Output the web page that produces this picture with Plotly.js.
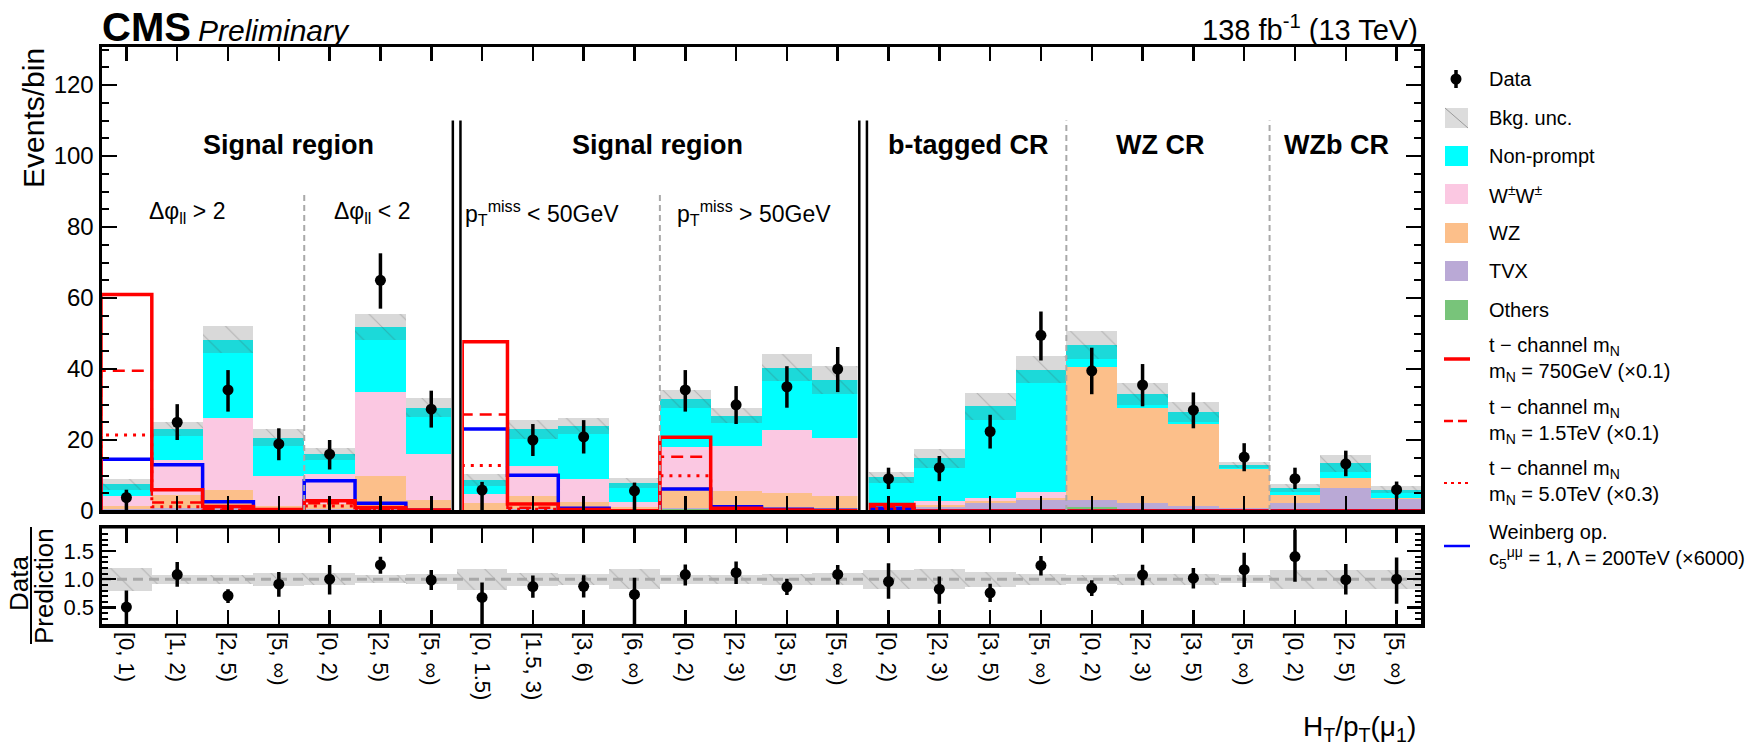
<!DOCTYPE html>
<html>
<head>
<meta charset="utf-8">
<script src="https://cdn.plot.ly/plotly-3.0.1.min.js"></script>
<style>
  html, body { margin: 0; padding: 0; background: #ffffff; }
  #chart { width: 1745px; height: 748px; }
</style>
</head>
<body>
<div id="chart"></div>
<script>
// ---- bins: H_T / p_T(mu1) intervals in each analysis region ----
const binLabels = [
  "[0, 1)", "[1, 2)", "[2, 5)", "[5, ∞)", "[0, 2)", "[2, 5)", "[5, ∞)",
  "[0, 1.5)", "[1.5, 3)", "[3, 6)", "[6, ∞)", "[0, 2)", "[2, 3)", "[3, 5)", "[5, ∞)",
  "[0, 2)", "[2, 3)", "[3, 5)", "[5, ∞)",
  "[0, 2)", "[2, 3)", "[3, 5)", "[5, ∞)",
  "[0, 2)", "[2, 5)", "[5, ∞)"
];

// ---- background predictions (events / bin), stacked bottom to top ----
const others    = [0.2, 0.3, 0.3, 0.1, 0.2, 0.3, 0.2,  0.1, 0.3, 0.1, 0.05, 0.5, 0.2, 0.2, 0.2,  0.1, 0.1, 0.1, 0.1,  1.0, 0.6, 0.3, 0.1,  0.1, 0.2, 0.1];
const tvx       = [0.3, 0.5, 0.6, 0.3, 0.4, 0.8, 0.5,  0.3, 0.4, 0.3, 0.15, 0.4, 0.4, 0.4, 0.5,  0.3, 1.0, 2.1, 3.0,  2.1, 1.6, 1.2, 0.7,  2.1, 6.3, 3.3];
const wz        = [0.9, 3.7, 5.0, 1.1, 1.5, 8.8, 2.4,  1.8, 3.6, 2.0, 0.8, 5.9, 5.1, 4.5, 3.6,  0.3, 0.6, 0.5, 0.5,  37.4, 26.8, 22.9, 10.9,  2.2, 2.8, 0.4];
const wpwp      = [2.9, 9.9, 20.2, 8.4, 8.3, 23.7, 13.0,  2.6, 8.4, 6.6, 1.4, 11.1, 12.6, 17.7, 16.4,  0.3, 1.0, 1.1, 1.7,  0.2, 0.1, 0.1, 0.05,  0.0, 0.0, 0.0];
const nonprompt = [3.2, 8.7, 22.1, 10.8, 5.6, 18.3, 13.0,  3.9, 10.3, 14.9, 5.4, 13.6, 8.5, 17.6, 16.2,  8.5, 12.1, 25.7, 34.5,  6.1, 3.9, 3.4, 1.25,  2.1, 4.1, 2.2];
const bkgUnc    = [1.5, 1.9, 3.8, 2.4, 1.7, 3.7, 2.6,  1.6, 2.6, 2.3, 1.4, 2.6, 2.1, 3.8, 3.9,  1.6, 2.6, 3.8, 3.8,  3.9, 3.2, 2.7, 0.9,  1.1, 2.3, 1.0];

// ---- observed data with asymmetric uncertainties ----
const dataVals  = [3.8, 25.0, 34.1, 18.9, 16.0, 65.0, 28.7,  5.9, 20.0, 20.9, 5.7, 34.1, 29.9, 35.0, 40.0,  9.1, 12.2, 22.4, 49.5,  39.5, 35.5, 28.4, 15.2,  9.1, 13.3, 6.0];
const dataErrUp = [2.2, 5.1, 5.6, 4.4, 4.0, 7.6, 5.2,  2.3, 4.5, 4.7, 2.3, 5.6, 5.3, 5.8, 6.2,  3.1, 3.3, 4.7, 6.7,  6.5, 5.9, 5.0, 3.9,  3.1, 3.7, 2.3];
const dataErrDn = [3.8, 5.0, 6.1, 4.6, 4.3, 8.0, 5.2,  5.9, 4.5, 4.7, 5.7, 6.1, 5.4, 5.9, 6.5,  2.9, 3.8, 4.8, 7.1,  6.6, 6.0, 5.1, 4.0,  2.9, 3.5, 2.6];

// ---- signal hypotheses (scaled as quoted in the legend) ----
const sigT750     = [61.0, 6.0, 1.3, 0.4, 2.9, 1.0, 0.3,  47.7, 2.0, 0.4, 0.1, 20.8, 0.8, 0.3, 0.1,  1.8, 0, 0, 0,  0, 0, 0, 0,  0, 0, 0];
const sigT1500    = [39.5, 2.4, 0.6, 0.2, 2.2, 0.5, 0.15, 27.2, 0.9, 0.2, 0.05, 15.3, 0.4, 0.1, 0.05, 1.3, 0, 0, 0,  0, 0, 0, 0,  0, 0, 0];
const sigT5000    = [21.4, 1.2, 0.3, 0.1, 1.4, 0.3, 0.1,  12.8, 0.5, 0.1, 0.03, 9.9, 0.3, 0.1, 0.03, 0.7, 0, 0, 0,  0, 0, 0, 0,  0, 0, 0];
const sigWeinberg = [14.6, 13.0, 2.6, 0.2, 8.5, 2.2, 0.2,  23.1, 10.1, 0.8, 0.1, 6.2, 1.2, 0.5, 0.2,  0.8, 0, 0, 0,  0, 0, 0, 0,  0, 0, 0];

// ---- region layout: contiguous bin ranges drawn as separate panels ----
const panels = [[0, 6], [7, 14], [15, 25]];

const COL = {
  others: '#78c47a', tvx: '#baa9d6', wz: '#fcbf8a', wpwp: '#fbc8e2', np: '#00ffff',
  red: '#ff0000', blue: '#0000ff'
};
const FONT = 'Liberation Sans, Arial, Helvetica, sans-serif';

const nBins = binLabels.length;
const idx = binLabels.map((_, i) => i);

// stacked backgrounds
const stackDefs = [
  { name: 'Others', vals: others, color: COL.others },
  { name: 'TVX', vals: tvx, color: COL.tvx },
  { name: 'WZ', vals: wz, color: COL.wz },
  { name: 'W±W±', vals: wpwp, color: COL.wpwp },
  { name: 'Non-prompt', vals: nonprompt, color: COL.np }
];
const cumul = idx.map(() => 0);
const traces = [];
stackDefs.forEach(s => {
  traces.push({
    type: 'bar', x: idx, y: s.vals, base: cumul.slice(), width: 1,
    marker: { color: s.color, line: { width: 0 } },
    xaxis: 'x', yaxis: 'y', hoverinfo: 'skip', showlegend: false
  });
  s.vals.forEach((v, i) => { cumul[i] += v; });
});
const totalPred = cumul.slice();

// uncertainty band: translucent grey fill plus a sparse hatch on top
const BAND_FILL = 'rgba(110,110,110,0.26)';
const hatch = { shape: '\\', fgcolor: 'rgba(70,70,70,0.5)', bgcolor: 'rgba(0,0,0,0)', size: 22, solidity: 0.05, fillmode: 'overlay' };
function bandTraces(xa, ya, lo, hi) {
  const common = { type: 'bar', x: idx, y: idx.map(i => hi[i] - lo[i]), base: lo, width: 1,
    xaxis: xa, yaxis: ya, hoverinfo: 'skip', showlegend: false };
  return [
    Object.assign({}, common, { marker: { color: BAND_FILL, line: { width: 0 } } }),
    Object.assign({}, common, { marker: { color: 'rgba(0,0,0,0)', line: { width: 0 }, pattern: hatch } })
  ];
}
traces.push(...bandTraces('x', 'y',
  idx.map(i => totalPred[i] - bkgUnc[i]), idx.map(i => totalPred[i] + bkgUnc[i])));

// step outlines for the signal hypotheses, one closed outline per panel
function stepOutline(vals) {
  const gap = 0.11;
  const xs = [], ys = [];
  panels.forEach(([a, b], p) => {
    const left = a - 0.5 + (a > 0 ? gap : 0);
    const right = b + 0.5 - (b < nBins - 1 ? gap : 0);
    xs.push(left); ys.push(0);
    for (let i = a; i <= b; i++) {
      xs.push(i === a ? left : i - 0.5, i === b ? right : i + 0.5);
      ys.push(vals[i], vals[i]);
    }
    xs.push(right); ys.push(0);
    if (p < panels.length - 1) { xs.push(null); ys.push(null); }
  });
  return { x: xs, y: ys };
}
const signalDefs = [
  { vals: sigWeinberg, color: COL.blue, width: 3.5, dash: 'solid' },
  { vals: sigT5000, color: COL.red, width: 3, dash: '3px,6px' },
  { vals: sigT1500, color: COL.red, width: 2.5, dash: '12px,7px' },
  { vals: sigT750, color: COL.red, width: 3.5, dash: 'solid' }
];
signalDefs.forEach(s => {
  const st = stepOutline(s.vals);
  traces.push({
    type: 'scatter', mode: 'lines', x: st.x, y: st.y, connectgaps: false,
    line: { color: s.color, width: s.width, dash: s.dash, shape: 'linear' },
    xaxis: 'x', yaxis: 'y', hoverinfo: 'skip', showlegend: false
  });
});

// observed data
traces.push({
  type: 'scatter', mode: 'markers', x: idx, y: dataVals,
  marker: { color: '#000', size: 11 },
  error_y: { type: 'data', symmetric: false, array: dataErrUp, arrayminus: dataErrDn, color: '#000', thickness: 3.5, width: 0 },
  xaxis: 'x', yaxis: 'y', hoverinfo: 'skip', showlegend: false
});

// ---- ratio panel ----
const relUnc = idx.map(i => bkgUnc[i] / totalPred[i]);
traces.push(...bandTraces('x2', 'y2', relUnc.map(u => 1 - u), relUnc.map(u => 1 + u)));
traces.push({
  type: 'scatter', mode: 'lines', x: [-0.5, nBins - 0.5], y: [1, 1],
  line: { color: '#a8a8a8', width: 3, dash: '10px,6px' },
  xaxis: 'x2', yaxis: 'y2', hoverinfo: 'skip', showlegend: false
});
traces.push({
  type: 'scatter', mode: 'markers', x: idx, y: idx.map(i => dataVals[i] / totalPred[i]),
  marker: { color: '#000', size: 11 },
  error_y: {
    type: 'data', symmetric: false,
    array: idx.map(i => dataErrUp[i] / totalPred[i]),
    arrayminus: idx.map(i => dataErrDn[i] / totalPred[i]),
    color: '#000', thickness: 3.5, width: 0
  },
  xaxis: 'x2', yaxis: 'y2', hoverinfo: 'skip', showlegend: false
});

// ---- geometry helpers (pixels -> paper) ----
const PL = 101, PR = 1422, PT = 46, PB = 625;
const px2x = p => (p - PL) / (PR - PL);
const py2y = p => (PB - p) / (PB - PT);
const mainBottom = py2y(511), ratioTop = py2y(527.5);

const shapes = [];
const annotations = [];

// panel separators (double lines with a blank gap)
[6.5, 14.5].forEach(b => {
  shapes.push({ type: 'rect', xref: 'x', yref: 'y', x0: b - 0.11, x1: b + 0.11, y0: 0, y1: 110,
    fillcolor: '#ffffff', line: { width: 0 }, layer: 'above' });
  [-0.075, 0.075].forEach(d => shapes.push({ type: 'line', xref: 'x', yref: 'y', x0: b + d, x1: b + d, y0: 0, y1: 110,
    line: { color: '#000', width: 2.5 }, layer: 'above' }));
});
// sub-region dividers
[[3.5, 90], [10.5, 90], [18.5, 110], [22.5, 110]].forEach(([b, top]) => {
  shapes.push({ type: 'line', xref: 'x', yref: 'y', x0: b, x1: b, y0: 0, y1: top,
    line: { color: '#a9a9a9', width: 2, dash: '6px,4px' }, layer: 'above' });
});
// frames
shapes.push({ type: 'rect', xref: 'paper', yref: 'paper', x0: 0, x1: 1, y0: mainBottom, y1: 1,
  line: { color: '#000', width: 2 }, fillcolor: 'rgba(0,0,0,0)', layer: 'above' });
shapes.push({ type: 'rect', xref: 'paper', yref: 'paper', x0: 0, x1: 1, y0: 0, y1: ratioTop,
  line: { color: '#000', width: 2 }, fillcolor: 'rgba(0,0,0,0)', layer: 'above' });

// region labels
const regionTitles = [
  { x: 3.2, text: 'Signal region' }, { x: 10.46, text: 'Signal region' },
  { x: 16.57, text: 'b-tagged CR' }, { x: 20.35, text: 'WZ CR' }, { x: 23.81, text: 'WZb CR' }
];
regionTitles.forEach(r => annotations.push({
  xref: 'x', yref: 'y', x: r.x, y: 103, text: '<b>' + r.text + '</b>', showarrow: false,
  xanchor: 'center', yanchor: 'middle', font: { family: FONT, size: 27, color: '#000' }
}));
const subTitles = [
  { x: 1.19, text: 'Δφ<sub>ll</sub> > 2' }, { x: 4.83, text: 'Δφ<sub>ll</sub> < 2' },
  { x: 8.18, text: 'p<sub>T</sub><sup>miss</sup> < 50GeV' }, { x: 12.35, text: 'p<sub>T</sub><sup>miss</sup> > 50GeV' }
];
subTitles.forEach(r => annotations.push({
  xref: 'x', yref: 'y', x: r.x, y: 84, text: r.text, showarrow: false,
  xanchor: 'center', yanchor: 'middle', font: { family: FONT, size: 23, color: '#000' }
}));

// header
annotations.push({ xref: 'paper', yref: 'paper', x: px2x(100), y: py2y(27), text: '<b>CMS</b>', showarrow: false,
  xanchor: 'left', yanchor: 'middle', font: { family: FONT, size: 40, color: '#000' } });
annotations.push({ xref: 'paper', yref: 'paper', x: px2x(196), y: py2y(30), text: '<i>Preliminary</i>', showarrow: false,
  xanchor: 'left', yanchor: 'middle', font: { family: FONT, size: 30, color: '#000' } });
annotations.push({ xref: 'paper', yref: 'paper', x: px2x(1420), y: py2y(28), text: '138 fb<sup>-1</sup> (13 TeV)', showarrow: false,
  xanchor: 'right', yanchor: 'middle', font: { family: FONT, size: 29, color: '#000' } });

// axis titles
annotations.push({ xref: 'paper', yref: 'paper', x: px2x(33), y: 1, text: 'Events/bin', textangle: -90, showarrow: false,
  xanchor: 'center', yanchor: 'top', font: { family: FONT, size: 30, color: '#000' } });
annotations.push({ xref: 'paper', yref: 'paper', x: px2x(19), y: py2y(584), text: 'Data', textangle: -90, showarrow: false,
  xanchor: 'center', yanchor: 'middle', font: { family: FONT, size: 26, color: '#000' } });
annotations.push({ xref: 'paper', yref: 'paper', x: px2x(44), y: py2y(586), text: 'Prediction', textangle: -90, showarrow: false,
  xanchor: 'center', yanchor: 'middle', font: { family: FONT, size: 26, color: '#000' } });
shapes.push({ type: 'line', xref: 'paper', yref: 'paper', x0: px2x(31), x1: px2x(31), y0: py2y(527), y1: py2y(644),
  line: { color: '#000', width: 2 } });
annotations.push({ xref: 'paper', yref: 'paper', x: px2x(1418), y: py2y(728), text: 'H<sub>T</sub>/p<sub>T</sub>(μ<sub>1</sub>)', showarrow: false,
  xanchor: 'right', yanchor: 'middle', font: { family: FONT, size: 28, color: '#000' } });

// ---- legend ----
const LG = { symL: 1445, symR: 1468, lineL: 1444, lineR: 1470, text: 1487, font: 20 };
const legendRows = [
  { kind: 'data', y: 79, text: 'Data' },
  { kind: 'unc', y: 118, text: 'Bkg. unc.' },
  { kind: 'box', y: 156, color: COL.np, text: 'Non-prompt' },
  { kind: 'box', y: 194, color: COL.wpwp, text: 'W<sup>±</sup>W<sup>±</sup>' },
  { kind: 'box', y: 233, color: COL.wz, text: 'WZ' },
  { kind: 'box', y: 271, color: COL.tvx, text: 'TVX' },
  { kind: 'box', y: 310, color: COL.others, text: 'Others' },
  { kind: 'line', y: 359, color: COL.red, width: 3.5, dash: 'solid', text: 't − channel m<sub>N</sub><br>m<sub>N</sub> = 750GeV (×0.1)' },
  { kind: 'line', y: 421, color: COL.red, width: 2.5, dash: '9px,5px', text: 't − channel m<sub>N</sub><br>m<sub>N</sub> = 1.5TeV (×0.1)' },
  { kind: 'line', y: 483, color: COL.red, width: 2, dash: '3px,4px', text: 't − channel m<sub>N</sub><br>m<sub>N</sub> = 5.0TeV (×0.3)' },
  { kind: 'line', y: 546, color: COL.blue, width: 2.5, dash: 'solid', text: 'Weinberg op.<br>c<sub>5</sub><sup>μμ</sup> = 1, Λ = 200TeV (×6000)' }
];
legendRows.forEach(r => {
  if (r.kind === 'box' || r.kind === 'unc') {
    shapes.push({ type: 'rect', xref: 'paper', yref: 'paper', x0: px2x(LG.symL), x1: px2x(LG.symR),
      y0: py2y(r.y + 10), y1: py2y(r.y - 10), fillcolor: r.kind === 'unc' ? '#dcdcdc' : r.color, line: { width: 0 } });
    if (r.kind === 'unc') {
      shapes.push({ type: 'line', xref: 'paper', yref: 'paper', x0: px2x(LG.symL), x1: px2x(LG.symR),
        y0: py2y(r.y - 10), y1: py2y(r.y + 10), line: { color: '#9a9a9a', width: 1 } });
    }
  } else if (r.kind === 'line') {
    shapes.push({ type: 'line', xref: 'paper', yref: 'paper', x0: px2x(LG.lineL), x1: px2x(LG.lineR),
      y0: py2y(r.y), y1: py2y(r.y), line: { color: r.color, width: r.width, dash: r.dash } });
  } else if (r.kind === 'data') {
    const cx = 1456;
    shapes.push({ type: 'line', xref: 'paper', yref: 'paper', x0: px2x(cx), x1: px2x(cx),
      y0: py2y(r.y - 9), y1: py2y(r.y + 9), line: { color: '#000', width: 3.5 } });
    shapes.push({ type: 'circle', xref: 'paper', yref: 'paper', x0: px2x(cx - 5.5), x1: px2x(cx + 5.5),
      y0: py2y(r.y + 5.5), y1: py2y(r.y - 5.5), fillcolor: '#000', line: { width: 0 } });
  }
  annotations.push({
    xref: 'paper', yref: 'paper', x: px2x(LG.text), y: py2y(r.y), text: r.text, showarrow: false,
    xanchor: 'left', yanchor: 'middle', align: 'left', font: { family: FONT, size: LG.font, color: '#000' }
  });
});

// ---- axes ----
const axisCommon = {
  showgrid: false, zeroline: false, showline: true, linecolor: '#000', linewidth: 2.5,
  mirror: 'allticks', ticks: 'inside', tickcolor: '#000', tickwidth: 2.5
};
const layout = {
  width: 1745, height: 748,
  margin: { l: PL, r: 1745 - PR, t: PT, b: 748 - PB, pad: 0 },
  paper_bgcolor: '#ffffff', plot_bgcolor: '#ffffff',
  barmode: 'overlay', bargap: 0, showlegend: false,
  font: { family: FONT, color: '#000' },
  xaxis: Object.assign({}, axisCommon, {
    domain: [0, 1], anchor: 'y', range: [-0.5, nBins - 0.5],
    tickmode: 'array', tickvals: idx, ticklen: 15, showticklabels: false
  }),
  yaxis: Object.assign({}, axisCommon, {
    domain: [mainBottom, 1], anchor: 'x', range: [0, 131],
    tickmode: 'linear', tick0: 0, dtick: 20, ticklen: 16,
    tickfont: { family: FONT, size: 24, color: '#000' },
    minor: { dtick: 5, ticklen: 8, ticks: 'inside', tickcolor: '#000', tickwidth: 2, showgrid: false }
  }),
  xaxis2: Object.assign({}, axisCommon, {
    domain: [0, 1], anchor: 'y2', matches: 'x', range: [-0.5, nBins - 0.5],
    tickmode: 'array', tickvals: idx, ticktext: binLabels, ticklen: 15,
    tickangle: 90, tickfont: { family: FONT, size: 22, color: '#000' }
  }),
  yaxis2: Object.assign({}, axisCommon, {
    domain: [0, ratioTop], anchor: 'x2', range: [0.19, 1.915],
    tickmode: 'array', tickvals: [0.5, 1.0, 1.5], ticktext: ['0.5', '1.0', '1.5'], ticklen: 15,
    tickfont: { family: FONT, size: 22, color: '#000' },
    minor: { dtick: 0.1, tick0: 0, ticklen: 7, ticks: 'inside', tickcolor: '#000', tickwidth: 2, showgrid: false }
  }),
  shapes: shapes,
  annotations: annotations
};

Plotly.newPlot('chart', traces, layout, { displayModeBar: false, staticPlot: true });
</script>
</body>
</html>
